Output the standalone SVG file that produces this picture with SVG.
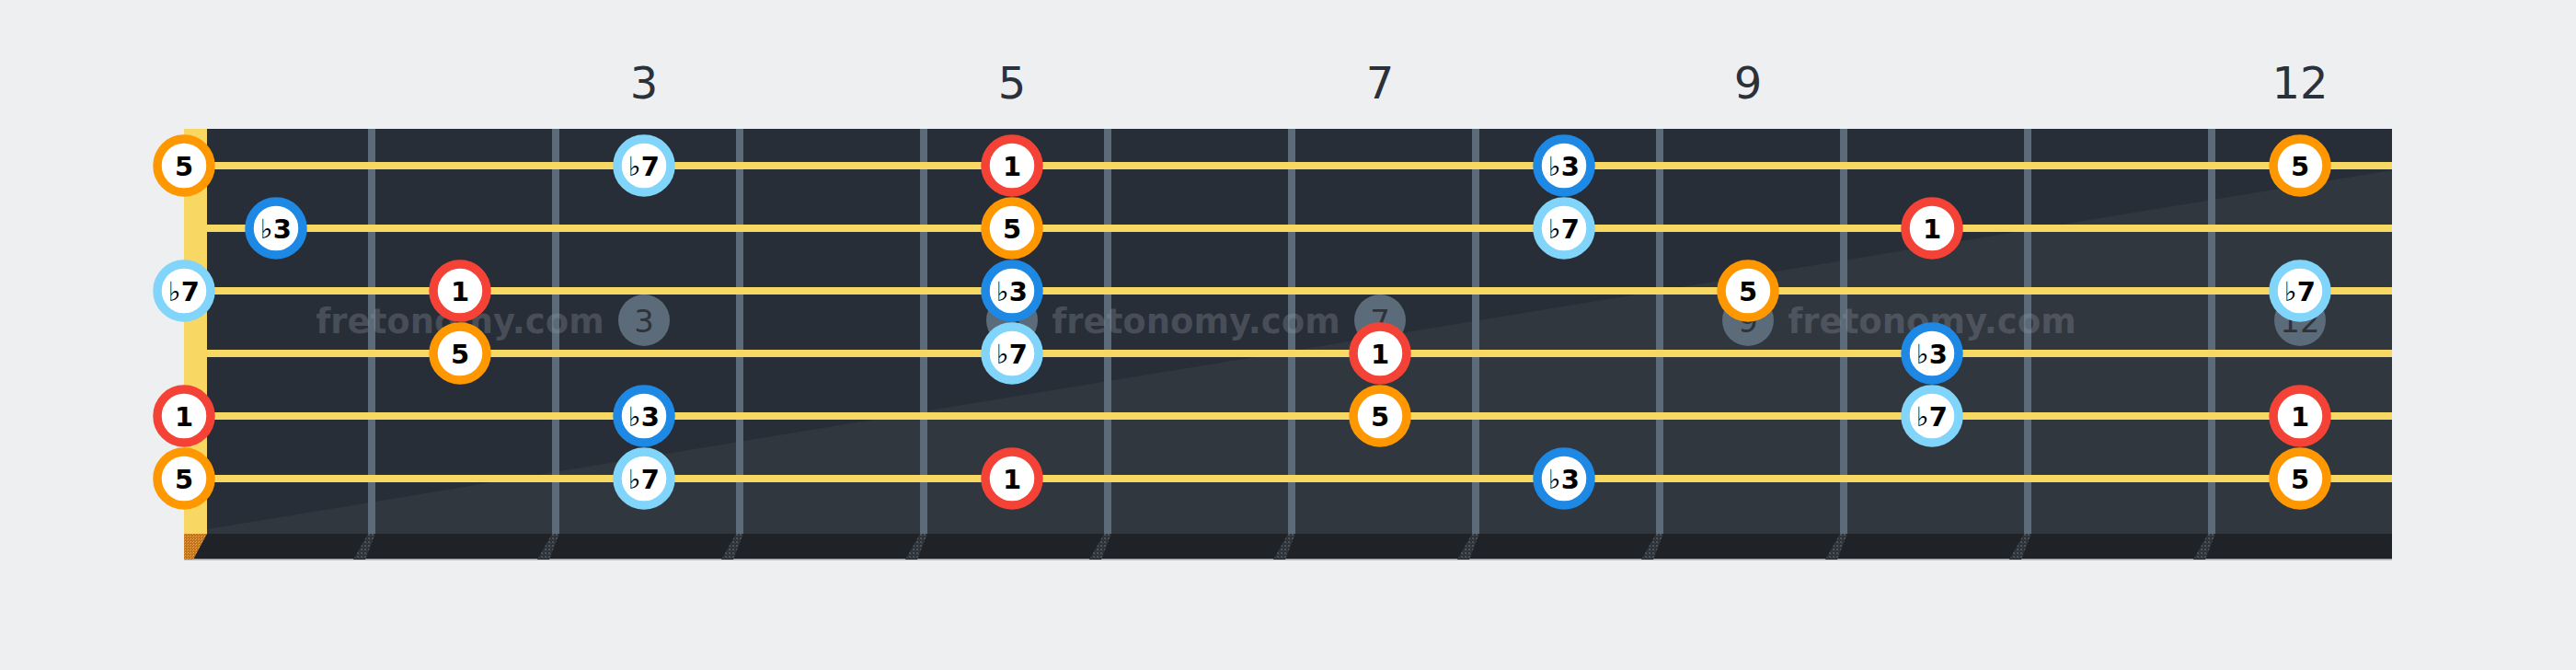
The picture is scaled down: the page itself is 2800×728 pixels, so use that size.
<svg xmlns="http://www.w3.org/2000/svg" width="2800" height="728" viewBox="0 0 2800 728">
  <defs>
    <style>
      .lbl { font-family: "DejaVu Sans", "Liberation Sans", sans-serif; font-size: 48px; fill: #2a313a; text-anchor: middle; }
      .mk { fill: #5b6b79; }
      .mkt { font-family: "DejaVu Sans", "Liberation Sans", sans-serif; font-size: 34px; fill: #2d333b; text-anchor: middle; }
      .fret { fill: #5b6b79; }
      .fretb { fill: url(#dots); }
      .str { fill: #f7d862; }
      .wm { font-family: "DejaVu Sans", "Liberation Sans", sans-serif; font-weight: bold; font-size: 37px; fill: #9aa1aa; fill-opacity: 0.28; text-anchor: middle; }
      .n { fill: #ffffff; stroke-width: 9.5; }
      .c1 { stroke: #f44336; }
      .c3 { stroke: #1e88e5; }
      .c5 { stroke: #ff9800; }
      .c7 { stroke: #81d4fa; }
      .nt { font-family: "DejaVu Sans", "Liberation Sans", sans-serif; font-weight: bold; font-size: 29px; fill: #000000; text-anchor: middle; }
      .fl { font-weight: normal; }
    </style>
    <pattern id="dots" width="4" height="4" patternUnits="userSpaceOnUse">
      <rect width="4" height="4" fill="#2c3137"/>
      <rect x="0" y="0" width="2" height="2" fill="#4e545c"/>
      <rect x="2" y="2" width="1" height="1" fill="#464c54"/>
    </pattern>
    <pattern id="nutdots" width="3" height="3" patternUnits="userSpaceOnUse">
      <rect width="3" height="3" fill="#c27420"/>
      <rect x="0" y="0" width="1" height="1" fill="#f0b040"/>
      <rect x="2" y="1" width="1" height="1" fill="#e39a30"/>
    </pattern>
  </defs>
  <rect width="2800" height="728" fill="#edeff1"/>

  <g id="fret-labels">
    <text class="lbl" x="700" y="107">3</text>
    <text class="lbl" x="1100" y="107">5</text>
    <text class="lbl" x="1500" y="107">7</text>
    <text class="lbl" x="1900" y="107">9</text>
    <text class="lbl" x="2500" y="107">12</text>
  </g>

  <g id="fretboard">
    <rect x="200" y="140" width="2400" height="440" fill="#282e37"/>
    <polygon points="225,575 2600,185 2600,580 225,580" fill="#31373f"/>
    <rect x="200" y="580" width="2400" height="28" fill="#1f2328"/>
    <rect x="200" y="607" width="2400" height="1.5" fill="#9aa2aa"/>
    <rect x="200" y="140" width="25" height="440" fill="#f8d862"/>
    <polygon points="200,580 225,580 210,608 200,608" fill="url(#nutdots)"/>
  </g>

  <g id="frets">
    <rect class="fret" x="400" y="140" width="8" height="440"/>
    <rect class="fret" x="600" y="140" width="8" height="440"/>
    <rect class="fret" x="800" y="140" width="8" height="440"/>
    <rect class="fret" x="1000" y="140" width="8" height="440"/>
    <rect class="fret" x="1200" y="140" width="8" height="440"/>
    <rect class="fret" x="1400" y="140" width="8" height="440"/>
    <rect class="fret" x="1600" y="140" width="8" height="440"/>
    <rect class="fret" x="1800" y="140" width="8" height="440"/>
    <rect class="fret" x="2000" y="140" width="8" height="440"/>
    <rect class="fret" x="2200" y="140" width="8" height="440"/>
    <rect class="fret" x="2400" y="140" width="8" height="440"/>
    <polygon class="fretb" points="400,580 408,580 397,608 384,608"/>
    <polygon class="fretb" points="600,580 608,580 597,608 584,608"/>
    <polygon class="fretb" points="800,580 808,580 797,608 784,608"/>
    <polygon class="fretb" points="1000,580 1008,580 997,608 984,608"/>
    <polygon class="fretb" points="1200,580 1208,580 1197,608 1184,608"/>
    <polygon class="fretb" points="1400,580 1408,580 1397,608 1384,608"/>
    <polygon class="fretb" points="1600,580 1608,580 1597,608 1584,608"/>
    <polygon class="fretb" points="1800,580 1808,580 1797,608 1784,608"/>
    <polygon class="fretb" points="2000,580 2008,580 1997,608 1984,608"/>
    <polygon class="fretb" points="2200,580 2208,580 2197,608 2184,608"/>
    <polygon class="fretb" points="2400,580 2408,580 2397,608 2384,608"/>
  </g>

  <g id="markers">
    <circle class="mk" cx="700" cy="348" r="28"/><text class="mkt" x="700" y="361">3</text>
    <circle class="mk" cx="1100" cy="348" r="28"/><text class="mkt" x="1100" y="361">5</text>
    <circle class="mk" cx="1500" cy="348" r="28"/><text class="mkt" x="1500" y="361">7</text>
    <circle class="mk" cx="1900" cy="348" r="28"/><text class="mkt" x="1900" y="361">9</text>
    <circle class="mk" cx="2500" cy="348" r="28"/><text class="mkt" x="2500" y="361">12</text>
  </g>

  <g id="connectors">
    <rect class="str" x="225" y="176" width="2375" height="8"/>
    <rect class="str" x="225" y="244" width="2375" height="8"/>
    <rect class="str" x="225" y="312" width="2375" height="8"/>
    <rect class="str" x="225" y="380" width="2375" height="8"/>
    <rect class="str" x="225" y="448" width="2375" height="8"/>
    <rect class="str" x="225" y="516" width="2375" height="8"/>
  </g>

  <g id="watermark">
    <text class="wm" x="500" y="362">fretonomy.com</text>
    <text class="wm" x="1300" y="362">fretonomy.com</text>
    <text class="wm" x="2100" y="362">fretonomy.com</text>
  </g>

  <g id="notes">
    <!-- string 1 -->
    <g id="s1f0"><circle class="n c5" cx="200" cy="180" r="29"/><text class="nt" x="200" y="190.5">5</text></g>
    <g id="s1f3"><circle class="n c7" cx="700" cy="180" r="29"/><text class="nt" x="700" y="190.5"><tspan class="fl">♭</tspan>7</text></g>
    <g id="s1f5"><circle class="n c1" cx="1100" cy="180" r="29"/><text class="nt" x="1100" y="190.5">1</text></g>
    <g id="s1f8"><circle class="n c3" cx="1700" cy="180" r="29"/><text class="nt" x="1700" y="190.5"><tspan class="fl">♭</tspan>3</text></g>
    <g id="s1f12"><circle class="n c5" cx="2500" cy="180" r="29"/><text class="nt" x="2500" y="190.5">5</text></g>
    <!-- string 2 -->
    <g id="s2f1"><circle class="n c3" cx="300" cy="248" r="29"/><text class="nt" x="300" y="258.5"><tspan class="fl">♭</tspan>3</text></g>
    <g id="s2f5"><circle class="n c5" cx="1100" cy="248" r="29"/><text class="nt" x="1100" y="258.5">5</text></g>
    <g id="s2f8"><circle class="n c7" cx="1700" cy="248" r="29"/><text class="nt" x="1700" y="258.5"><tspan class="fl">♭</tspan>7</text></g>
    <g id="s2f10"><circle class="n c1" cx="2100" cy="248" r="29"/><text class="nt" x="2100" y="258.5">1</text></g>
    <!-- string 3 -->
    <g id="s3f0"><circle class="n c7" cx="200" cy="316" r="29"/><text class="nt" x="200" y="326.5"><tspan class="fl">♭</tspan>7</text></g>
    <g id="s3f2"><circle class="n c1" cx="500" cy="316" r="29"/><text class="nt" x="500" y="326.5">1</text></g>
    <g id="s3f5"><circle class="n c3" cx="1100" cy="316" r="29"/><text class="nt" x="1100" y="326.5"><tspan class="fl">♭</tspan>3</text></g>
    <g id="s3f9"><circle class="n c5" cx="1900" cy="316" r="29"/><text class="nt" x="1900" y="326.5">5</text></g>
    <g id="s3f12"><circle class="n c7" cx="2500" cy="316" r="29"/><text class="nt" x="2500" y="326.5"><tspan class="fl">♭</tspan>7</text></g>
    <!-- string 4 -->
    <g id="s4f2"><circle class="n c5" cx="500" cy="384" r="29"/><text class="nt" x="500" y="394.5">5</text></g>
    <g id="s4f5"><circle class="n c7" cx="1100" cy="384" r="29"/><text class="nt" x="1100" y="394.5"><tspan class="fl">♭</tspan>7</text></g>
    <g id="s4f7"><circle class="n c1" cx="1500" cy="384" r="29"/><text class="nt" x="1500" y="394.5">1</text></g>
    <g id="s4f10"><circle class="n c3" cx="2100" cy="384" r="29"/><text class="nt" x="2100" y="394.5"><tspan class="fl">♭</tspan>3</text></g>
    <!-- string 5 -->
    <g id="s5f0"><circle class="n c1" cx="200" cy="452" r="29"/><text class="nt" x="200" y="462.5">1</text></g>
    <g id="s5f3"><circle class="n c3" cx="700" cy="452" r="29"/><text class="nt" x="700" y="462.5"><tspan class="fl">♭</tspan>3</text></g>
    <g id="s5f7"><circle class="n c5" cx="1500" cy="452" r="29"/><text class="nt" x="1500" y="462.5">5</text></g>
    <g id="s5f10"><circle class="n c7" cx="2100" cy="452" r="29"/><text class="nt" x="2100" y="462.5"><tspan class="fl">♭</tspan>7</text></g>
    <g id="s5f12"><circle class="n c1" cx="2500" cy="452" r="29"/><text class="nt" x="2500" y="462.5">1</text></g>
    <!-- string 6 -->
    <g id="s6f0"><circle class="n c5" cx="200" cy="520" r="29"/><text class="nt" x="200" y="530.5">5</text></g>
    <g id="s6f3"><circle class="n c7" cx="700" cy="520" r="29"/><text class="nt" x="700" y="530.5"><tspan class="fl">♭</tspan>7</text></g>
    <g id="s6f5"><circle class="n c1" cx="1100" cy="520" r="29"/><text class="nt" x="1100" y="530.5">1</text></g>
    <g id="s6f8"><circle class="n c3" cx="1700" cy="520" r="29"/><text class="nt" x="1700" y="530.5"><tspan class="fl">♭</tspan>3</text></g>
    <g id="s6f12"><circle class="n c5" cx="2500" cy="520" r="29"/><text class="nt" x="2500" y="530.5">5</text></g>
  </g>
</svg>
